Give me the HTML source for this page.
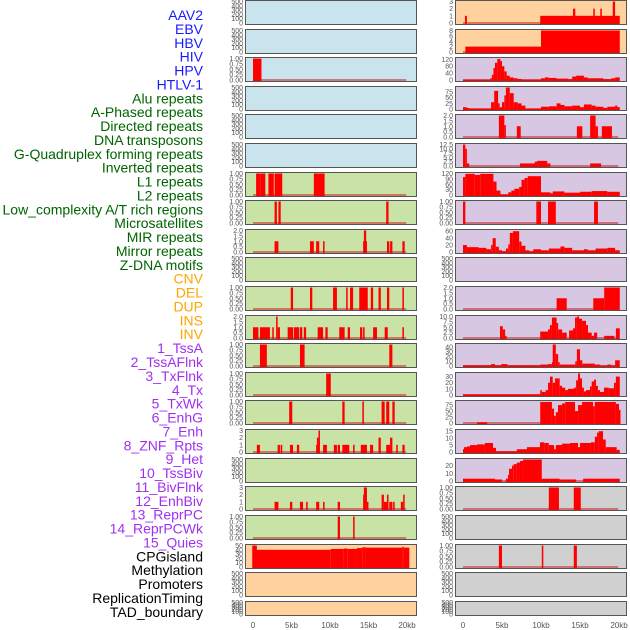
<!DOCTYPE html>
<html><head><meta charset="utf-8"><style>
html,body{margin:0;padding:0;background:#fff;width:630px;height:630px;overflow:hidden}
svg{display:block}
</style></head><body>
<svg id="chart" width="630" height="630" xmlns="http://www.w3.org/2000/svg"></svg>
<script>
const NS="http://www.w3.org/2000/svg";
const trackLabels=["AAV2","EBV","HBV","HIV","HPV","HTLV-1","Alu repeats","A-Phased repeats","Directed repeats","DNA transposons","G-Quadruplex forming repeats","Inverted repeats","L1 repeats","L2 repeats","Low_complexity A/T rich regions","Microsatellites","MIR repeats","Mirror repeats","Z-DNA motifs","CNV","DEL","DUP","INS","INV","1_TssA","2_TssAFlnk","3_TxFlnk","4_Tx","5_TxWk","6_EnhG","7_Enh","8_ZNF_Rpts","9_Het","10_TssBiv","11_BivFlnk","12_EnhBiv","13_ReprPC","14_ReprPCWk","15_Quies","CPGisland","Methylation","Promoters","ReplicationTiming","TAD_boundary"];
const xTickLabels=["0","5kb","10kb","15kb","20kb"];
const xTickValues=[0,5,10,15,20];
const emptyTicks=["0","100","200","300","400","500"];
const ticks01=["0.00","0.25","0.50","0.75","1.00"];
const ticks02=["0.0","0.5","1.0","1.5","2.0"];
const ticks03=["0","1","2","3"];
// bars: [startKb, endKb, value]
const barsHBV=[[0,1.1,1]];
const barsAPhased=[[0.4,1.0,1],[1.0,1.6,1],[2.0,2.7,1],[2.8,3.8,1],[7.9,9.3,1]];
const barsDirected=[[2.8,3.1,1],[3.3,3.6,1],[17.3,17.6,1]];
const barsDNAtrans=[[2.8,3.3,1],[7.4,7.9,1],[8.2,8.6,1],[9.1,9.3,1],[14.3,14.8,1],[14.4,14.7,2],[17.4,17.7,1],[17.8,18.1,1],[19.4,19.7,1]];
const barsInverted=[[4.9,5.2,1],[7.4,7.7,1],[10.4,10.9,1],[12.1,12.3,1],[12.6,13.0,1],[13.8,14.9,1],[15.3,15.6,1],[16.3,16.6,1],[17.4,17.7,1],[19.4,19.6,1]];
const barsL1=[[0,0.7,1],[0.9,2.2,1],[2.5,2.7,1],[3.0,3.2,2],[3.2,3.5,1],[4.5,5.2,1],[5.3,6.0,1],[6.1,6.4,1],[6.6,6.9,1],[8.4,9.1,1],[9.4,9.7,1],[11.2,11.9,1],[12.3,12.6,1],[13.9,14.2,1],[14.3,14.5,1],[15.6,16.1,1],[17.1,17.5,1],[19.4,19.6,1]];
const barsL2=[[0.9,1.8,1],[6.1,6.7,1],[17.7,18.1,1]];
const barsLowCx=[[9.5,10.1,1]];
const barsMicro=[[4.7,5.1,1],[11.6,11.9,1],[14.2,14.4,1],[16.7,17.1,1],[17.3,17.7,1],[18.1,18.4,1]];
const barsMIR=[[0.5,0.9,1],[3.2,3.5,1],[3.6,3.8,1],[4.8,5.2,1],[5.7,6.0,1],[8.2,8.6,1],[8.3,8.5,2],[8.5,8.6,3],[9.1,9.6,1],[10.5,10.9,1],[11.0,11.3,1],[11.6,12.5,1],[13.0,13.2,1],[14.0,14.8,1],[15.2,15.6,1],[16.3,16.6,2],[17.3,17.8,1],[17.8,18.1,2],[18.6,18.8,1],[19.4,19.7,1]];
const barsZDNA=[[2.8,3.3,1],[4.8,5.1,1],[6.1,6.5,1],[6.9,7.1,1],[8.2,8.6,1],[9.1,9.3,1],[11.0,11.3,1],[14.3,14.5,2],[14.4,14.8,3],[14.8,14.9,1],[16.7,17.0,2],[17.0,17.4,1],[17.4,17.6,2],[17.7,18.1,1],[18.2,18.4,1],[19.2,19.5,1],[19.5,19.7,2]];
const barsCNV=[[-0.1,0.5,50],[0,10.1,40],[10.1,11.8,42],[11.8,12.3,43],[12.3,13.5,42],[13.5,14.2,44],[14.2,14.6,46],[14.6,19.4,45],[19.4,19.6,47],[19.6,20.3,45]];
const barsExtra=[[0.25,0.5,1]];
const barsINS=[[0.25,0.5,1],[9.9,20.1,1],[14.1,14.4,2],[16.7,16.9,2],[17.6,17.8,2],[19.2,19.5,3]];
const barsINV=[[0.3,10,2],[10,20.1,8]];
const barsTssA=[[0,3.5,2],[3.5,3.7,10],[3.7,3.9,30],[3.9,4.1,70],[4.1,4.4,100],[4.4,4.8,122],[4.8,5.0,110],[5.0,5.3,80],[5.3,5.6,50],[5.6,6.0,25],[6.0,6.5,15],[6.5,7.0,10],[7.0,7.5,6],[7.5,10,2],[10,10.5,10],[10.5,11,15],[11,12,12],[12,13.5,8],[13.5,14,5],[14,14.5,20],[14.5,15.5,25],[15.5,16,15],[16,18,10],[18,19,5],[19,19.5,10],[19.5,20.1,15]];
const barsTssAFlnk=[[0,0.5,8],[0.5,0.8,4],[0.8,3.6,1],[3.6,4.0,30],[4.0,4.5,80],[4.5,4.7,25],[4.7,5.0,8],[5.0,5.3,30],[5.3,5.5,60],[5.5,6.0,95],[6.0,6.5,70],[6.5,7.0,30],[7.0,7.5,25],[7.5,8.0,15],[8.0,10,1],[10,11,10],[11,12,12],[12,12.5,25],[12.5,13,18],[13,14,12],[14,15,15],[15,15.5,8],[15.5,16.5,20],[16.5,17,15],[17,18,10],[18,18.5,5],[18.5,19.5,10],[19.5,19.8,15],[19.8,20.1,8]];
const barsTxFlnk=[[4.6,5.3,2],[5.3,5.5,1.1],[6.9,7.4,1],[14.6,15.3,1],[16.3,17.0,2],[17.0,17.3,1],[17.8,19.1,1]];
const barsTx=[[0,0.3,12.5],[0.3,0.5,10],[0.5,0.8,1.5],[7.3,8.2,1.5],[8.2,9.3,1.5],[9.2,9.5,2.5],[9.5,10.8,3],[10.8,11.2,1.5],[16.3,17.7,1.5]];
const barsTxWk=[[0,0.3,100],[0.3,1.5,118],[1.5,2.2,112],[2.2,3.9,118],[3.9,4.3,75],[4.3,4.8,25],[4.8,5.8,3],[5.8,6.2,15],[6.2,6.6,25],[6.6,7.2,35],[7.2,7.5,45],[7.5,7.9,85],[7.9,8.3,95],[8.3,10.0,105],[10.0,11.2,15],[11.2,11.5,10],[11.5,13,20],[13,15,13],[15,16.5,18],[16.5,18.5,22],[18.5,20.1,18]];
const barsEnhG=[[0,0.3,1],[9.4,10.0,1],[10.9,11.9,1],[16.8,17.3,1]];
const barsEnh=[[0,0.5,20],[0.5,2,14],[2,3,12],[3,3.6,8],[3.6,3.8,20],[3.8,4.2,40],[4.2,4.6,15],[4.6,5,5],[5,5.5,2],[5.5,5.8,10],[5.8,6.0,22],[6.0,6.4,55],[6.4,7.2,60],[7.2,7.5,30],[7.5,8.0,18],[8.0,8.5,5],[8.5,9.0,2],[9,10,8],[10,11,5],[11,12.5,10],[12.5,13,16],[13,14,12],[14,15.5,5],[15.5,16,8],[16,17,5],[17,18.5,10],[18.5,19.5,12],[19.5,20.1,5]];
const barsHet=[[12.0,13.3,1],[16.7,18.1,1],[18.1,20.1,2]];
const barsTssBiv=[[4.74,5.1,5.5],[5.1,5.4,4],[5.4,5.6,1],[9.9,10.9,3],[10.9,11.15,4],[11.15,11.4,6],[11.4,12.0,9.5],[12.0,12.2,7],[12.2,12.7,4],[12.7,13.3,2.5],[13.6,14.1,3.5],[14.1,14.36,4.5],[14.36,14.6,9.5],[14.6,14.87,10],[14.87,15.26,9],[15.26,15.77,8],[15.77,16.03,6],[16.03,16.5,2.5],[16.5,16.8,1],[16.8,17.2,2.5],[18.1,19.4,1],[19.6,20.1,4.5]];
const barsBivFlnk=[[0,3.6,1.5],[3.6,4.1,4],[4.1,4.9,1.5],[4.9,5.7,4],[5.7,9.9,1.5],[9.9,10.9,3],[10.9,11.4,4],[11.4,11.5,8],[11.5,11.9,45],[11.9,12.2,25],[12.2,12.4,8],[12.4,14.4,3],[14.4,14.6,10],[14.6,15.0,35],[15.0,15.3,12],[15.3,16.9,5],[16.9,17.6,3],[17.6,18.5,1],[18.5,19.0,3],[19.0,19.5,1],[19.5,20.1,12]];
const barsEnhBiv=[[0,9.9,1],[9.9,10.1,8],[10.1,10.6,5],[10.6,10.9,8],[10.9,11.15,20],[11.15,11.5,30],[11.5,11.8,20],[11.8,12.4,27],[12.4,12.7,15],[12.7,13.1,12],[13.1,13.46,8],[13.46,14.23,10],[14.23,14.5,12],[14.5,14.75,24],[14.75,15.0,35],[15.0,15.26,27],[15.26,15.5,12],[15.5,15.77,6],[15.77,16.28,8],[16.28,16.5,14],[16.5,16.8,22],[16.8,17.05,25],[17.05,17.3,15],[17.3,17.56,8],[17.56,18.08,5],[18.08,18.7,12],[18.7,19.35,11],[19.35,19.6,20],[19.6,20.1,30]];
const barsReprPC=[[1.8,3.1,3],[9.9,11.4,88],[11.4,11.67,60],[11.67,11.9,30],[11.9,12.18,45],[12.18,12.7,75],[12.7,13.1,82],[13.1,14.36,88],[14.36,14.75,50],[14.75,15.26,75],[15.26,16.67,88],[16.67,16.9,70],[16.9,19.6,88],[19.6,20.0,80],[20.0,20.1,55]];
const barsReprPCWk=[[0,0.13,2],[0.13,0.51,3.5],[0.51,0.9,4],[0.9,1.8,5],[1.8,2.8,5.5],[2.8,3.85,6.5],[3.85,4.23,3],[4.23,6.9,0.5],[6.9,8.2,2],[8.2,9.87,3.5],[9.87,10.4,7],[10.4,11.0,6.5],[11.0,11.67,5],[11.67,11.9,2],[11.9,12.7,5],[12.7,13.7,6],[13.7,14.75,6.5],[14.75,15.0,3.5],[15.0,16.4,6.5],[16.4,16.9,7],[16.9,17.18,11],[17.18,17.4,14],[17.4,17.95,15],[17.95,18.3,9],[18.3,19.7,3.5],[19.7,20.1,1.5]];
const barsQuies=[[0,4.1,3],[4.1,5.0,2],[5.5,5.77,3],[5.77,5.9,8],[5.9,6.28,16],[6.28,6.5,20],[6.5,6.9,22],[6.9,7.3,24],[7.3,7.7,26],[7.7,10.1,28],[10.1,12.4,3],[12.4,14.5,2],[15.4,20.1,3]];
const barsCPG=[[11.0,12.3,1],[14.2,15.1,1]];
const barsPromoters=[[4.6,5.0,1],[10.1,10.3,1],[14.2,14.6,1]];

const BG={blue:"#c9e4ec",green:"#c9e2a6",orange:"#ffd19e",purple:"#d8c7e3",gray:"#d0d0d0"};
const panels=[
 [0,0,"blue",emptyTicks,500,null],[0,1,"blue",emptyTicks,500,null],[0,2,"blue",ticks01,1,barsHBV],[0,3,"blue",emptyTicks,500,null],[0,4,"blue",emptyTicks,500,null],[0,5,"blue",emptyTicks,500,null],
 [0,6,"green",ticks01,1,barsAPhased],[0,7,"green",ticks01,1,barsDirected],[0,8,"green",ticks02,2,barsDNAtrans],[0,9,"green",emptyTicks,500,null],[0,10,"green",ticks01,1,barsInverted],[0,11,"green",ticks02,2,barsL1],[0,12,"green",ticks01,1,barsL2],[0,13,"green",ticks01,1,barsLowCx],[0,14,"green",ticks01,1,barsMicro],[0,15,"green",ticks03,3,barsMIR],[0,16,"green",emptyTicks,500,null],[0,17,"green",ticks03,3,barsZDNA],[0,18,"green",ticks01,1,[[11.0,11.3,1],[13.0,13.2,1]]],
 [0,19,"orange",["0","10","20","30","40","50"],50,barsCNV],[0,20,"orange",emptyTicks,500,null],[0,21,"orange",emptyTicks,500,null],
 [1,0,"orange",ticks03,3,barsINS],[1,1,"orange",["0","2","4","6","8"],8,barsINV],
 [1,2,"purple",["0","40","80","120"],125,barsTssA],[1,3,"purple",["0","25","50","75"],95,barsTssAFlnk],[1,4,"purple",ticks02,2,barsTxFlnk],[1,5,"purple",["0.0","2.5","5.0","7.5","10.0","12.5"],12.5,barsTx],[1,6,"purple",["0","30","60","90","120"],120,barsTxWk],[1,7,"purple",ticks01,1,barsEnhG],[1,8,"purple",["0","20","40","60"],62,barsEnh],[1,9,"purple",emptyTicks,500,null],[1,10,"purple",ticks02,2,barsHet],[1,11,"purple",["0.0","2.5","5.0","7.5","10.0"],10,barsTssBiv],[1,12,"purple",["0","10","20","30","40"],45,barsBivFlnk],[1,13,"purple",["0","10","20","30"],35,barsEnhBiv],[1,14,"purple",["0","25","50","75"],90,barsReprPC],[1,15,"purple",["0","5","10","15"],15.5,barsReprPCWk],[1,16,"purple",["0","10","20"],28,barsQuies],
 [1,17,"gray",ticks01,1,barsCPG],[1,18,"gray",emptyTicks,500,null],[1,19,"gray",ticks01,1,barsPromoters],[1,20,"gray",emptyTicks,500,null],[1,21,"gray",emptyTicks,500,null]
];
const rowTops=[0,29,57,86,114,143,172,200,229,257,286,315,343,372,400,429,458,486,515,544,572,601];
const colX=[{l:245,r:417,x0:253,x1:407},{l:455,r:627,x0:463,x1:619}];
const svg=document.getElementById("chart");
function mk(tag,attrs,parent){const e=document.createElementNS(NS,tag);for(const k in attrs)e.setAttribute(k,attrs[k]);(parent||svg).appendChild(e);return e;}

// labels
const labelColor=i=>i<6?"#1a1aff":i<19?"#006400":i<24?"#ffa500":i<39?"#a030f0":"#000";
trackLabels.forEach((t,i)=>{
  const e=mk("text",{x:203,y:20+i*13.88,"text-anchor":"end","font-size":"14","font-family":"Liberation Sans, sans-serif",fill:labelColor(i)});
  
  
  e.textContent=t;
});

panels.forEach(p=>{
  const [col,row,bg,tks,ymax,bars]=p;
  const c=colX[col];const top=rowTops[row];const h=row===21?15:25;const bot=top+h;
  const g=mk("g",{});
  
  
  const rect=mk("rect",{x:c.l+0.5,y:top+0.5,width:c.r-c.l-1,height:h-1,fill:BG[bg],stroke:"#555","stroke-width":1},g);
  
  
  const y0=bot-2,y1=top+1.5;
  const ys=v=>y0-(v/ymax)*(y0-y1);
  const xs=kb=>c.x0+kb/20*(c.x1-c.x0);
  // ticks
  tks.forEach(t=>{
    const v=parseFloat(t);
    const e=mk("text",{x:c.l-2,y:ys(v)+2.5,"text-anchor":"end","font-size":"7","font-family":"Liberation Sans, sans-serif",fill:"#555"},g);
    
    
    e.textContent=t;
  });
  if(bars){
    const bl=mk("line",{x1:xs(0),x2:xs(19.9),y1:y0,y2:y0,stroke:"rgba(200,0,0,0.45)","stroke-width":2},g);
    
    
    bars.forEach(b=>{
      const xa=xs(Math.max(b[0],-0.3)),xb=xs(b[1]);const yv=Math.max(ys(b[2]),top+1);
      const r=mk("rect",{x:xa,y:yv,width:Math.max(xb-xa,1.5),height:y0-yv+1,fill:"#ff0000"},g);
      
      
    });
  }
});
// x axes
[0,1].forEach(col=>{
  const c=colX[col];
  xTickLabels.forEach((t,i)=>{
    const e=mk("text",{x:c.x0+xTickValues[i]/20*(c.x1-c.x0),y:628,"text-anchor":"middle","font-size":"8","font-family":"Liberation Sans, sans-serif",fill:"#555"});
    
    
    e.textContent=t;
  });
});
</script>
</body></html>
